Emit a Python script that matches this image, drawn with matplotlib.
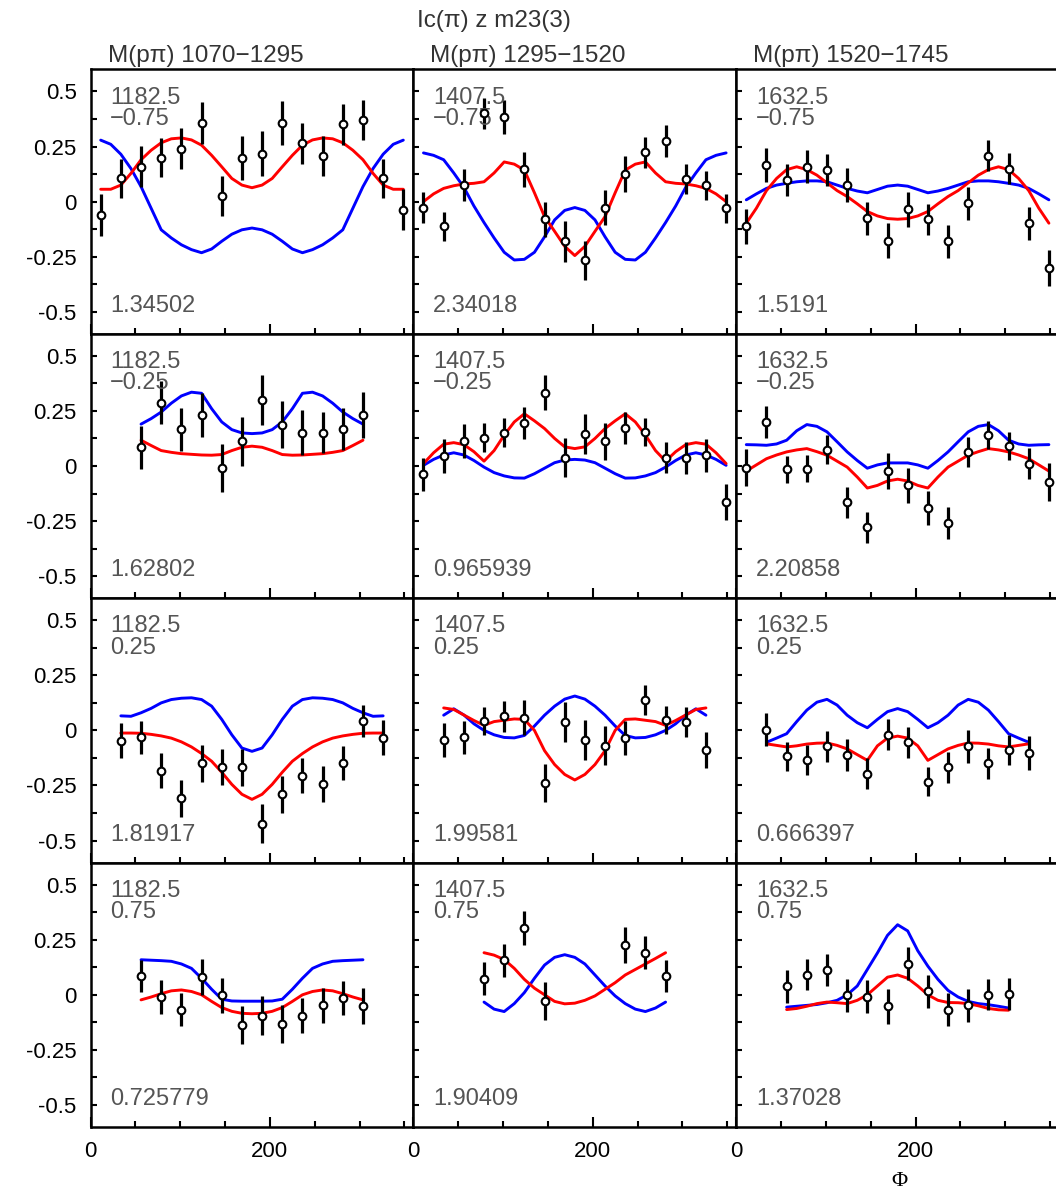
import numpy as np
import matplotlib.pyplot as plt
from matplotlib.ticker import MultipleLocator, FixedLocator, FixedFormatter

plt.rcParams['font.family'] = ['Liberation Sans', 'DejaVu Sans']

# --- data -------------------------------------------------------------
# Phi bin centres (deg) and the grids the model curves are sampled on
phi_bins = np.arange(11.25, 360, 22.5)
pts_16 = phi_bins
pts_14 = phi_bins[1:15]
pts_12 = phi_bins[2:14]
pts_42 = [78.75, 101.25, 123.75, 146.25, 236.25, 258.75, 281.25]

grid_31 = np.arange(11.25, 349, 11.25)
grid_27 = np.arange(33.75, 327, 11.25)
grid_23 = np.arange(56.25, 304, 11.25)
grid_19 = np.arange(78.75, 282, 11.25)

headers = ['M(pπ) 1070−1295', 'M(pπ) 1295−1520', 'M(pπ) 1520−1745']
mass_labels = ['1182.5', '1407.5', '1632.5']
cos_labels = ['−0.75', '−0.25', '0.25', '0.75']
chi2_labels = [['1.34502', '2.34018', '1.5191'],
               ['1.62802', '0.965939', '2.20858'],
               ['1.81917', '1.99581', '0.666397'],
               ['0.725779', '1.90409', '1.37028']]

# row 1 (cos = -0.75)
val_11 = [-0.06, 0.105, 0.158, 0.20, 0.24, 0.357, 0.026, 0.199, 0.218, 0.358, 0.264, 0.208, 0.351, 0.369, 0.105, -0.038]
err_11 = [0.094, 0.087, 0.094, 0.09, 0.093, 0.094, 0.09, 0.10, 0.104, 0.10, 0.094, 0.09, 0.094, 0.09, 0.09, 0.093]
red_11 = [0.056, 0.056, 0.075, 0.128, 0.19, 0.233, 0.267, 0.285, 0.289, 0.28, 0.256, 0.21, 0.158, 0.105, 0.075, 0.063,
          0.075, 0.105, 0.158, 0.21, 0.256, 0.28, 0.289, 0.285, 0.267, 0.233, 0.19, 0.128, 0.075, 0.056, 0.056]
blue_11 = [0.279, 0.26, 0.215, 0.15, 0.068, -0.03, -0.128, -0.165, -0.196, -0.218, -0.232, -0.215, -0.18, -0.148, -0.128, -0.12,
           -0.128, -0.148, -0.18, -0.215, -0.232, -0.218, -0.196, -0.165, -0.128, -0.03, 0.068, 0.15, 0.215, 0.26, 0.279]

val_12 = [-0.027, -0.113, 0.075, 0.40, 0.384, 0.146, -0.08, -0.181, -0.267, -0.027, 0.125, 0.223, 0.276, 0.102, 0.075, -0.03]
err_12 = [0.07, 0.068, 0.072, 0.072, 0.075, 0.079, 0.079, 0.091, 0.088, 0.079, 0.08, 0.072, 0.072, 0.068, 0.066, 0.066]
red_12 = [0.0, 0.035, 0.06, 0.072, 0.08, 0.083, 0.09, 0.13, 0.18, 0.17, 0.143, 0.04, -0.068, -0.135, -0.203, -0.245,
          -0.203, -0.135, -0.068, 0.04, 0.143, 0.17, 0.18, 0.13, 0.09, 0.083, 0.08, 0.072, 0.06, 0.035, 0.0]
blue_12 = [0.221, 0.21, 0.19, 0.13, 0.065, -0.02, -0.095, -0.165, -0.23, -0.265, -0.262, -0.23, -0.16, -0.083, -0.04, -0.027,
           -0.04, -0.083, -0.16, -0.23, -0.262, -0.265, -0.23, -0.165, -0.095, -0.02, 0.065, 0.13, 0.19, 0.21, 0.221]

val_13 = [-0.113, 0.164, 0.098, 0.158, 0.143, 0.075, -0.075, -0.178, -0.035, -0.08, -0.181, -0.008, 0.208, 0.15, -0.098, -0.301]
err_13 = [0.078, 0.077, 0.071, 0.075, 0.074, 0.077, 0.075, 0.079, 0.079, 0.071, 0.075, 0.074, 0.071, 0.07, 0.075, 0.08]
red_13 = [-0.098, -0.03, 0.05, 0.105, 0.145, 0.158, 0.145, 0.12, 0.085, 0.05, 0.023, -0.01, -0.045, -0.065, -0.077, -0.08,
          -0.077, -0.065, -0.045, -0.01, 0.023, 0.05, 0.085, 0.12, 0.145, 0.158, 0.145, 0.105, 0.05, -0.03, -0.098]
blue_13 = [0.008, 0.035, 0.06, 0.075, 0.083, 0.09, 0.094, 0.094, 0.09, 0.075, 0.06, 0.048, 0.04, 0.055, 0.07, 0.075,
           0.07, 0.055, 0.04, 0.048, 0.06, 0.075, 0.09, 0.094, 0.094, 0.09, 0.083, 0.075, 0.06, 0.035, 0.008]

# row 2 (cos = -0.25)
val_21 = [0.084, 0.287, 0.167, 0.231, -0.009, 0.112, 0.299, 0.188, 0.152, 0.152, 0.166, 0.231]
err_21 = [0.099, 0.097, 0.097, 0.10, 0.108, 0.112, 0.114, 0.105, 0.10, 0.095, 0.095, 0.104]
red_21 = [0.117, 0.093, 0.07, 0.062, 0.056, 0.053, 0.05, 0.049, 0.052, 0.07, 0.085, 0.09,
          0.085, 0.07, 0.052, 0.049, 0.05, 0.053, 0.056, 0.062, 0.07, 0.093, 0.117]
blue_21 = [0.19, 0.215, 0.245, 0.285, 0.318, 0.335, 0.33, 0.26, 0.2, 0.165, 0.15, 0.147,
           0.15, 0.165, 0.2, 0.26, 0.33, 0.335, 0.318, 0.285, 0.245, 0.215, 0.19]

val_22 = [-0.038, 0.046, 0.114, 0.129, 0.152, 0.196, 0.333, 0.038, 0.147, 0.112, 0.173, 0.155, 0.038, 0.036, 0.049, -0.164]
err_22 = [0.076, 0.076, 0.076, 0.065, 0.067, 0.072, 0.08, 0.089, 0.091, 0.084, 0.071, 0.065, 0.071, 0.074, 0.074, 0.081]
red_22 = [0.011, 0.06, 0.099, 0.106, 0.097, 0.065, 0.022, 0.07, 0.14, 0.2, 0.237, 0.205, 0.17, 0.125, 0.087, 0.079,
          0.087, 0.125, 0.17, 0.205, 0.237, 0.2, 0.14, 0.07, 0.022, 0.065, 0.097, 0.106, 0.099, 0.06, 0.011]
blue_22 = [0.003, 0.03, 0.05, 0.06, 0.05, 0.025, -0.005, -0.03, -0.045, -0.054, -0.055, -0.035, -0.01, 0.015, 0.027, 0.03,
           0.027, 0.015, -0.01, -0.035, -0.055, -0.054, -0.045, -0.03, -0.005, 0.025, 0.05, 0.06, 0.05, 0.03, 0.003]

val_23 = [-0.008, 0.2, -0.015, -0.012, 0.074, -0.164, -0.278, -0.023, -0.088, -0.191, -0.258, 0.064, 0.14, 0.09, 0.011, -0.073]
err_23 = [0.085, 0.071, 0.062, 0.062, 0.065, 0.07, 0.071, 0.08, 0.079, 0.078, 0.074, 0.067, 0.062, 0.065, 0.07, 0.085]
red_23 = [-0.023, 0.005, 0.033, 0.05, 0.064, 0.073, 0.079, 0.065, 0.049, 0.022, -0.005, -0.05, -0.1, -0.088, -0.068, -0.06,
          -0.068, -0.088, -0.1, -0.05, -0.005, 0.022, 0.049, 0.065, 0.079, 0.073, 0.064, 0.05, 0.033, 0.005, -0.023]
blue_23 = [0.097, 0.096, 0.094, 0.1, 0.117, 0.16, 0.188, 0.18, 0.155, 0.11, 0.064, 0.025, -0.01, 0.005, 0.014, 0.014,
           0.014, 0.005, -0.01, 0.025, 0.064, 0.11, 0.155, 0.18, 0.188, 0.16, 0.117, 0.1, 0.094, 0.096, 0.097]

# row 3 (cos = 0.25)
val_31 = [-0.046, -0.031, -0.183, -0.309, -0.15, -0.168, -0.168, -0.424, -0.29, -0.206, -0.242, -0.148, 0.043, -0.034]
err_31 = [0.08, 0.075, 0.08, 0.083, 0.084, 0.082, 0.084, 0.089, 0.084, 0.079, 0.082, 0.079, 0.073, 0.079]
red_31 = [-0.012, -0.012, -0.013, -0.018, -0.025, -0.035, -0.052, -0.075, -0.105, -0.14, -0.19, -0.245, -0.29, -0.313,
          -0.29, -0.245, -0.19, -0.14, -0.105, -0.075, -0.052, -0.035, -0.025, -0.018, -0.013, -0.012, -0.012]
blue_31 = [0.066, 0.064, 0.08, 0.1, 0.125, 0.14, 0.146, 0.148, 0.14, 0.11, 0.05, -0.02, -0.08, -0.095,
           -0.08, -0.02, 0.05, 0.11, 0.14, 0.148, 0.146, 0.14, 0.125, 0.1, 0.08, 0.064, 0.066]

val_32 = [-0.043, -0.031, 0.043, 0.064, 0.058, -0.237, 0.038, -0.043, -0.069, -0.035, 0.138, 0.049, 0.038, -0.087]
err_32 = [0.078, 0.074, 0.065, 0.071, 0.08, 0.086, 0.092, 0.09, 0.088, 0.078, 0.07, 0.064, 0.069, 0.082]
red_32 = [0.102, 0.095, 0.07, 0.045, 0.023, 0.04, 0.046, 0.052, 0.05, 0.0, -0.092, -0.155, -0.2, -0.225,
          -0.2, -0.155, -0.092, 0.0, 0.05, 0.052, 0.046, 0.04, 0.023, 0.045, 0.07, 0.095, 0.102]
blue_32 = [0.069, 0.098, 0.07, 0.03, 0.0, -0.02, -0.032, -0.034, -0.023, 0.02, 0.069, 0.11, 0.142, 0.156,
           0.142, 0.11, 0.069, 0.02, -0.023, -0.034, -0.032, -0.02, 0.0, 0.03, 0.07, 0.098, 0.069]

val_33 = [0.003, -0.118, -0.135, -0.072, -0.112, -0.196, -0.02, -0.054, -0.232, -0.168, -0.073, -0.15, -0.089, -0.102]
err_33 = [0.075, 0.067, 0.067, 0.071, 0.071, 0.069, 0.07, 0.069, 0.067, 0.069, 0.075, 0.069, 0.066, 0.076]
red_33 = [-0.061, -0.068, -0.075, -0.07, -0.062, -0.058, -0.057, -0.068, -0.084, -0.11, -0.136, -0.07, -0.035, -0.026,
          -0.035, -0.07, -0.136, -0.11, -0.084, -0.068, -0.057, -0.058, -0.062, -0.07, -0.075, -0.068, -0.061]
blue_33 = [-0.054, -0.035, -0.015, 0.04, 0.092, 0.128, 0.141, 0.115, 0.069, 0.035, 0.012, 0.05, 0.085, 0.099,
           0.085, 0.05, 0.012, 0.035, 0.069, 0.115, 0.141, 0.128, 0.092, 0.04, -0.015, -0.035, -0.054]

# row 4 (cos = 0.75)
val_41 = [0.085, -0.011, -0.068, 0.08, -0.003, -0.139, -0.094, -0.132, -0.094, -0.048, -0.015, -0.052]
err_41 = [0.072, 0.076, 0.074, 0.083, 0.081, 0.086, 0.087, 0.087, 0.08, 0.081, 0.077, 0.081]
red_41 = [-0.023, -0.01, 0.005, 0.018, 0.022, 0.015, 0.0, -0.03, -0.058, -0.075, -0.084, -0.086,
          -0.084, -0.075, -0.058, -0.03, 0.0, 0.015, 0.022, 0.018, 0.005, -0.01, -0.023]
blue_41 = [0.159, 0.157, 0.155, 0.152, 0.14, 0.12, 0.075, 0.025, -0.02, -0.028, -0.029, -0.029,
           -0.029, -0.028, -0.02, 0.025, 0.075, 0.12, 0.14, 0.152, 0.155, 0.157, 0.159]

val_42 = [0.073, 0.156, 0.303, -0.029, 0.227, 0.191, 0.085]
err_42 = [0.074, 0.073, 0.076, 0.085, 0.081, 0.075, 0.074]
red_42 = [0.191, 0.18, 0.16, 0.12, 0.07, 0.03, 0.0, -0.03, -0.041, -0.038, -0.025, -0.005, 0.025, 0.055, 0.09, 0.115,
          0.14, 0.165, 0.191]
blue_42 = [-0.033, -0.065, -0.076, -0.04, 0.01, 0.075, 0.135, 0.17, 0.182, 0.17, 0.14, 0.09, 0.04, -0.005, -0.04, -0.065,
           -0.076, -0.06, -0.033]

val_43 = [0.039, 0.092, 0.114, -0.003, -0.008, -0.052, 0.141, 0.015, -0.067, -0.048, 0.0, 0.002]
err_43 = [0.074, 0.072, 0.073, 0.074, 0.074, 0.08, 0.076, 0.077, 0.073, 0.074, 0.071, 0.073]
red_43 = [-0.067, -0.062, -0.052, -0.04, -0.033, -0.036, -0.04, -0.025, 0.0, 0.04, 0.08, 0.09,
          0.075, 0.04, 0.0, -0.025, -0.035, -0.036, -0.04, -0.05, -0.062, -0.068, -0.07]
blue_43 = [-0.056, -0.052, -0.048, -0.044, -0.036, -0.025, 0.0, 0.04, 0.115, 0.19, 0.27, 0.318,
           0.29, 0.2, 0.13, 0.07, 0.02, -0.01, -0.03, -0.04, -0.045, -0.052, -0.06]

panels = [
    [(pts_16, val_11, err_11, grid_31, red_11, blue_11),
     (pts_16, val_12, err_12, grid_31, red_12, blue_12),
     (pts_16, val_13, err_13, grid_31, red_13, blue_13)],
    [(pts_12, val_21, err_21, grid_23, red_21, blue_21),
     (pts_16, val_22, err_22, grid_31, red_22, blue_22),
     (pts_16, val_23, err_23, grid_31, red_23, blue_23)],
    [(pts_14, val_31, err_31, grid_27, red_31, blue_31),
     (pts_14, val_32, err_32, grid_27, red_32, blue_32),
     (pts_14, val_33, err_33, grid_27, red_33, blue_33)],
    [(pts_12, val_41, err_41, grid_23, red_41, blue_41),
     (pts_42, val_42, err_42, grid_19, red_42, blue_42),
     (pts_12, val_43, err_43, grid_23, red_43, blue_43)],
]

# --- figure -----------------------------------------------------------
W, H = 1056, 1192
fig = plt.figure(figsize=(W / 100, H / 100), dpi=100)

col_left = [90.6, 413.4, 736.2]
ax_w = 322.8
row_top = [69.4, 333.8, 598.2, 862.6]
ax_h = 264.4

txt_col = '#555555'

for r in range(4):
    for c in range(3):
        rect = [col_left[c] / W, 1 - (row_top[r] + ax_h) / H, ax_w / W, ax_h / H]
        ax = fig.add_axes(rect)
        phi_p, val, err, grid, red, blue = panels[r][c]

        ax.plot(grid, blue, color='#0000ff', lw=2.1, zorder=2,
                solid_joinstyle='round', solid_capstyle='round')
        ax.plot(grid, red, color='#ff0000', lw=2.1, zorder=2,
                solid_joinstyle='round', solid_capstyle='round')
        ax.errorbar(phi_p, val, yerr=err, fmt='o', ms=5.5, mfc='white', mec='black',
                    mew=1.5, ecolor='black', elinewidth=2.3, capsize=0, zorder=3)

        ax.set_xlim(0, 360)
        ax.set_ylim(-0.6, 0.6)

        ax.xaxis.set_major_locator(FixedLocator([0, 200]))
        ax.xaxis.set_minor_locator(MultipleLocator(50))
        ax.yaxis.set_major_locator(FixedLocator([-0.5, -0.25, 0, 0.25, 0.5]))
        ax.yaxis.set_minor_locator(MultipleLocator(0.125))
        ax.tick_params(which='both', direction='in', top=False, right=False,
                       width=1.5, labelsize=16, pad=10)
        ax.tick_params(axis='x', which='major', length=7)
        ax.tick_params(axis='x', which='minor', length=4.5)
        ax.tick_params(axis='y', which='both', length=4.5)

        if c == 0:
            ax.yaxis.set_major_formatter(FixedFormatter(['-0.5', '-0.25', '0', '0.25', '0.5']))
        else:
            ax.set_yticklabels([])
        if r == 3:
            ax.xaxis.set_major_formatter(FixedFormatter(['0', '200']))
        else:
            ax.set_xticklabels([])

        for s in ax.spines.values():
            s.set_linewidth(1.8)

        ax.text(0.061, 0.871, mass_labels[c], transform=ax.transAxes,
                fontsize=17, color=txt_col, va='baseline', ha='left')
        ax.text(0.061, 0.79, cos_labels[r], transform=ax.transAxes,
                fontsize=17, color=txt_col, va='baseline', ha='left')
        ax.text(0.061, 0.083, chi2_labels[r][c], transform=ax.transAxes,
                fontsize=17, color=txt_col, va='baseline', ha='left')

# column headers and title
for c in range(3):
    fig.text((col_left[c] + 17) / W, 1 - 62 / H, headers[c], fontsize=17.5,
             color='#333333', ha='left', va='baseline')
fig.text(417 / W, 1 - 27 / H, 'Ic(π) z m23(3)', fontsize=17.5, color='#333333',
         ha='left', va='baseline')
fig.text(899 / W, 1 - 1182 / H, 'Φ', fontsize=16, ha='center', va='center',
         family=['Liberation Serif', 'DejaVu Serif'])

fig.savefig('out.png', dpi=100, facecolor='white')
